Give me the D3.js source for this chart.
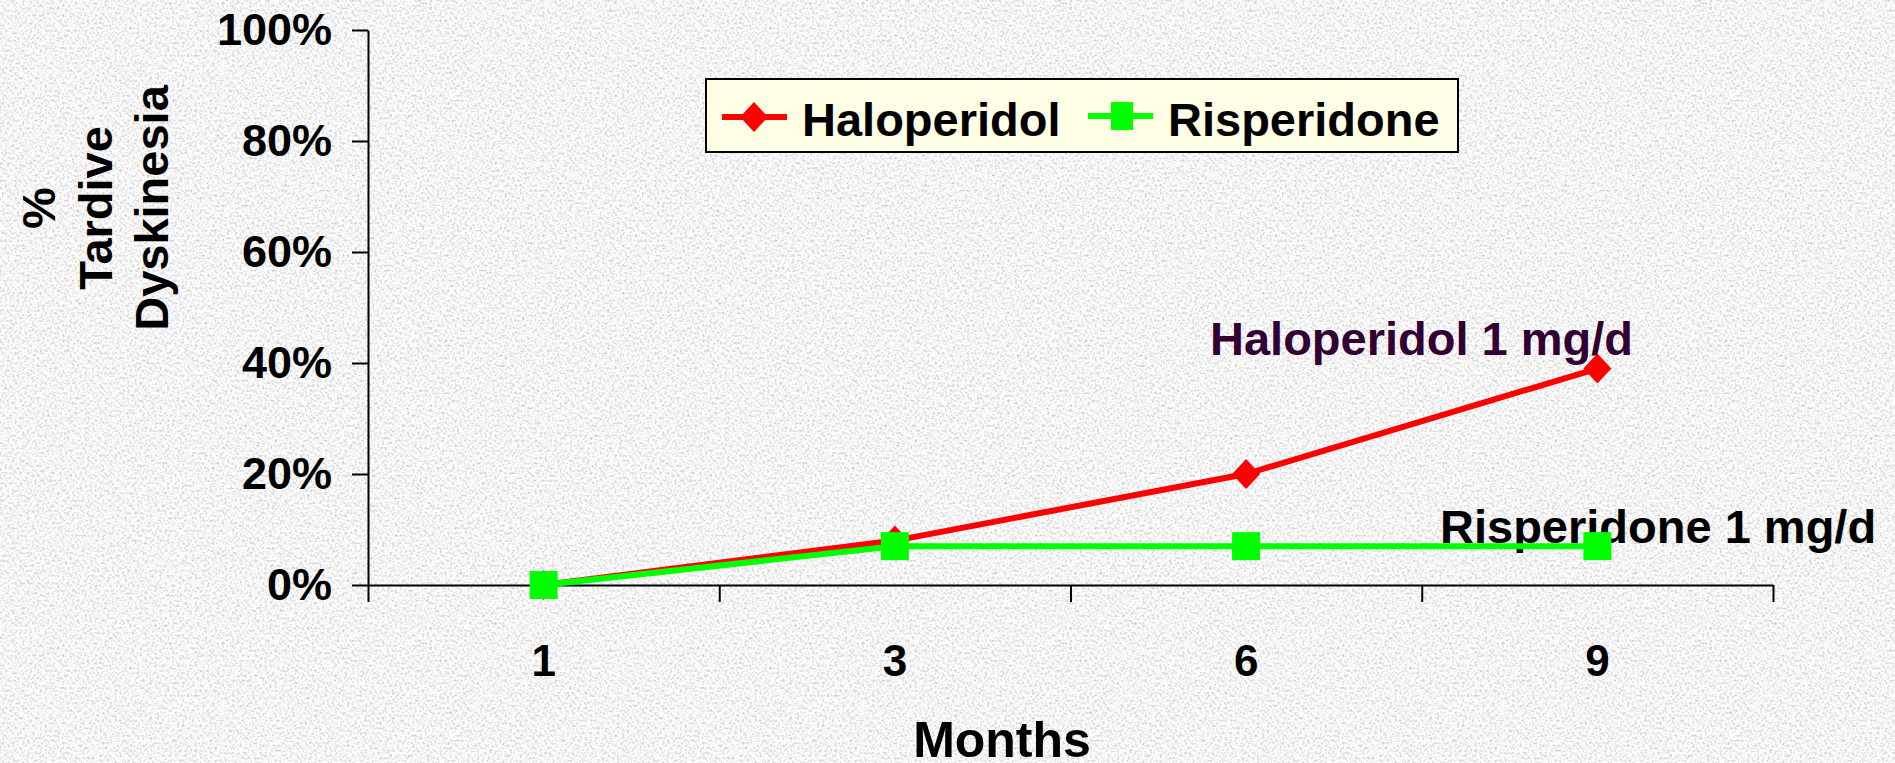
<!DOCTYPE html>
<html>
<head>
<meta charset="utf-8">
<script src="https://cdn.jsdelivr.net/npm/d3@7"></script>
<style>
  html, body { margin: 0; padding: 0; overflow: hidden; }
  svg text { font-family: "Liberation Sans", Arial, sans-serif; font-weight: bold; }
</style>
</head>
<body>
<div id="chart"></div>
<script>
// chart data
var months = ["1", "3", "6", "9"];
var haloperidol = [0, 0.08, 0.20, 0.39];
var risperidone = [0, 0.07, 0.07, 0.07];
var seriesNames = ["Haloperidol", "Risperidone"];
var yTicks = [0, 0.2, 0.4, 0.6, 0.8, 1];

// chart bounds
var svgWidth = 1895;
var svgHeight = 763;
var plot = { left: 368, right: 1773, top: 30, bottom: 585 };

var svg = d3.select("#chart")
  .append("svg")
  .attr("width", svgWidth)
  .attr("height", svgHeight);

// granite style background
var defs = svg.append("defs");
var filter = defs.append("filter")
  .attr("id", "granite")
  .attr("x", 0).attr("y", 0).attr("width", "100%").attr("height", "100%");
filter.append("feTurbulence")
  .attr("type", "fractalNoise")
  .attr("baseFrequency", 0.4)
  .attr("numOctaves", 4)
  .attr("seed", 7);
filter.append("feColorMatrix")
  .attr("type", "matrix")
  .attr("values", "0.9 0 0 0 0.46  0.9 0 0 0 0.46  0.9 0 0 0 0.46  0 0 0 0 1");

svg.append("rect")
  .attr("width", svgWidth)
  .attr("height", svgHeight)
  .attr("fill", "#e8e8e8")
  .attr("filter", "url(#granite)");

// scales
var x = d3.scaleBand()
  .domain(months)
  .range([plot.left, plot.right]);

var xEdges = d3.scaleLinear()
  .domain([0, months.length])
  .range([plot.left, plot.right]);

var y = d3.scaleLinear()
  .domain([0, 1])
  .range([plot.bottom, plot.top]);

var cx = d => x(d) + x.bandwidth() / 2;

// y axis
var yAxis = svg.append("g")
  .attr("transform", `translate(${plot.left}, 0)`)
  .call(d3.axisLeft(y)
    .tickValues(yTicks)
    .tickFormat(d3.format(".0%"))
    .tickSize(16)
    .tickSizeOuter(0)
    .tickPadding(20));
yAxis.select(".domain").attr("stroke", "#000").attr("stroke-width", 2);
yAxis.selectAll(".tick line").attr("stroke", "#000").attr("stroke-width", 2);
yAxis.selectAll(".tick text")
  .attr("font-size", 45)
  .attr("font-family", "Liberation Sans, Arial, sans-serif")
  .attr("fill", "#000");

// x axis: ticks on category boundaries
var xAxis = svg.append("g")
  .attr("transform", `translate(0, ${plot.bottom})`)
  .call(d3.axisBottom(xEdges)
    .tickValues(d3.range(months.length + 1))
    .tickFormat("")
    .tickSize(17)
    .tickSizeOuter(0));
xAxis.select(".domain").attr("stroke", "#000").attr("stroke-width", 2);
xAxis.selectAll(".tick line").attr("stroke", "#000").attr("stroke-width", 2);

// x labels centred in each category
var xLabels = svg.append("g")
  .attr("transform", `translate(0, ${plot.bottom})`)
  .call(d3.axisBottom(x).tickSize(0).tickPadding(60));
xLabels.select(".domain").remove();
xLabels.selectAll(".tick text")
  .attr("font-size", 44)
  .attr("font-family", "Liberation Sans, Arial, sans-serif")
  .attr("fill", "#000");

// axis titles
svg.append("text")
  .attr("x", 1002)
  .attr("y", 757)
  .attr("text-anchor", "middle")
  .attr("font-size", 50)
  .attr("fill", "#000")
  .text("Months");

var yTitle = ["%", "Tardive", "Dyskinesia"];
var yTitleBase = [55, 112, 168];
yTitle.forEach(function(t, i) {
  svg.append("text")
    .attr("transform", `translate(${yTitleBase[i]}, 208) rotate(-90)`)
    .attr("text-anchor", "middle")
    .attr("font-size", 47)
    .attr("fill", "#000")
    .text(t);
});

// annotations (drawn under the series)
svg.append("text")
  .attr("x", 1210)
  .attr("y", 355)
  .attr("font-size", 47)
  .attr("fill", "#330033")
  .text("Haloperidol 1 mg/d");

svg.append("text")
  .attr("x", 1440)
  .attr("y", 543)
  .attr("font-size", 47)
  .attr("fill", "#000")
  .text("Risperidone 1 mg/d");

// lines
var line = d3.line()
  .x((d, i) => cx(months[i]))
  .y(d => y(d));

svg.append("path")
  .datum(haloperidol)
  .attr("d", line)
  .attr("fill", "none")
  .attr("stroke", "#ff0000")
  .attr("stroke-width", 6)
  .attr("stroke-linejoin", "round");

svg.append("path")
  .datum(risperidone)
  .attr("d", line)
  .attr("fill", "none")
  .attr("stroke", "#00ff00")
  .attr("stroke-width", 6)
  .attr("stroke-linejoin", "round");

// markers
var diamond = "M0,-15L14,0L0,15L-14,0Z";

svg.selectAll(".halo-pt")
  .data(haloperidol)
  .enter()
  .append("path")
  .attr("class", "halo-pt")
  .attr("transform", (d, i) => `translate(${cx(months[i])}, ${y(d)})`)
  .attr("d", diamond)
  .attr("fill", "#ff0000");

svg.selectAll(".risp-pt")
  .data(risperidone)
  .enter()
  .append("rect")
  .attr("class", "risp-pt")
  .attr("x", (d, i) => cx(months[i]) - 14)
  .attr("y", d => y(d) - 14)
  .attr("width", 28)
  .attr("height", 28)
  .attr("fill", "#00ff00");

// legend
var legend = svg.append("g");
legend.append("rect")
  .attr("x", 706)
  .attr("y", 79)
  .attr("width", 752)
  .attr("height", 73)
  .attr("fill", "#ffffe6")
  .attr("stroke", "#000")
  .attr("stroke-width", 2);

// haloperidol entry
legend.append("line")
  .attr("x1", 722).attr("x2", 787)
  .attr("y1", 117).attr("y2", 117)
  .attr("stroke", "#ff0000")
  .attr("stroke-width", 6);
legend.append("path")
  .attr("transform", "translate(754, 117)")
  .attr("d", diamond)
  .attr("fill", "#ff0000");
legend.append("text")
  .attr("x", 802)
  .attr("y", 136)
  .attr("font-size", 47)
  .attr("fill", "#000")
  .text(seriesNames[0]);

// risperidone entry
legend.append("line")
  .attr("x1", 1088).attr("x2", 1153)
  .attr("y1", 116).attr("y2", 116)
  .attr("stroke", "#00ff00")
  .attr("stroke-width", 6);
legend.append("rect")
  .attr("x", 1111)
  .attr("y", 102)
  .attr("width", 22)
  .attr("height", 28)
  .attr("fill", "#00ff00");
legend.append("text")
  .attr("x", 1168)
  .attr("y", 136)
  .attr("font-size", 47)
  .attr("fill", "#000")
  .text(seriesNames[1]);
</script>
</body>
</html>
